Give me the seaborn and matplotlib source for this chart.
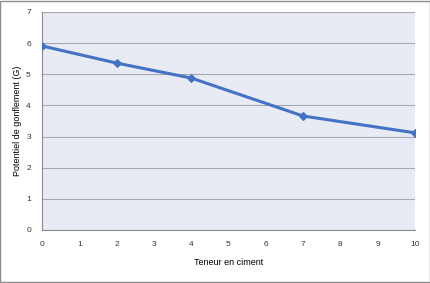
import matplotlib
matplotlib.use("Agg")
import matplotlib.pyplot as plt
import seaborn as sns
import pandas as pd
from matplotlib.patches import Rectangle

teneur = [0, 2, 4, 7, 10]
potentiel = [5.91, 5.36, 4.88, 3.66, 3.12]
xticks = list(range(0, 11))
yticks = list(range(0, 8))

sns.set_theme(style="white")
plt.rcParams['font.family'] = ['Liberation Sans', 'DejaVu Sans']

df = pd.DataFrame({"Teneur en ciment": teneur, "Potentiel de gonflement (G)": potentiel})

fig = plt.figure(figsize=(4.31, 2.83), dpi=100)
fig.patch.set_facecolor("white")
ax = fig.add_axes([42/431, 53/283, 373/431, 218/283])
ax.set_facecolor("#e8eaf4")

sns.lineplot(data=df, x="Teneur en ciment", y="Potentiel de gonflement (G)", ax=ax,
             color="#4472c4", linewidth=2.2, marker="D", markersize=4.5,
             markeredgecolor="#4472c4", zorder=3)

ax.set_xlim(0, 10)
ax.set_ylim(0, 7)
ax.set_xticks(xticks)
ax.set_yticks(yticks)
ax.tick_params(axis="both", labelsize=6, colors="#333333", length=0, pad=8)
ax.yaxis.grid(True, color="#a8a8b0", linewidth=0.8)
ax.xaxis.grid(False)
for s in ["top", "right"]:
    ax.spines[s].set_visible(False)
for s in ["left", "bottom"]:
    ax.spines[s].set_color("#8c8c8c")
    ax.spines[s].set_linewidth(0.8)
ax.set_xlabel("Teneur en ciment", fontsize=6.5, color="#000000", labelpad=7)
ax.set_ylabel("Potentiel de gonflement (G)", fontsize=6.5, color="#000000", labelpad=3)

fig.patches.append(Rectangle((0.001, 0.002), 0.996, 0.995, transform=fig.transFigure,
                             fill=False, edgecolor="#8c8c8c", linewidth=1.0))

fig.savefig("out.png", dpi=100)
